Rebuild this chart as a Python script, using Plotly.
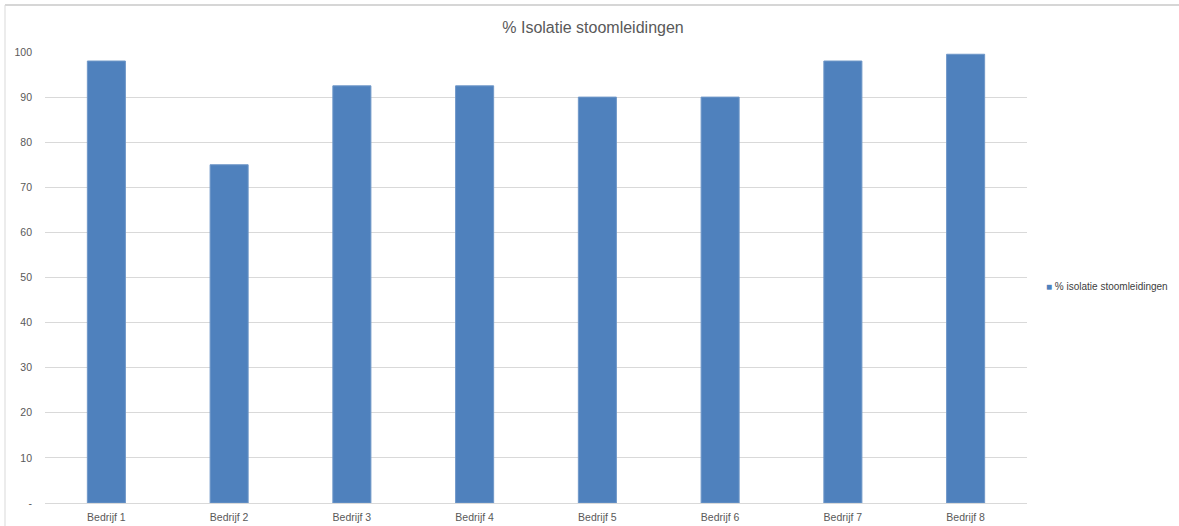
import plotly.graph_objects as go

categories = ["Bedrijf 1", "Bedrijf 2", "Bedrijf 3", "Bedrijf 4",
              "Bedrijf 5", "Bedrijf 6", "Bedrijf 7", "Bedrijf 8"]
values = [98, 75, 92.5, 92.5, 90, 90, 98, 99.5]
y_ticks = [0, 10, 20, 30, 40, 50, 60, 70, 80, 90, 100]
y_tick_text = ["-", "10", "20", "30", "40", "50", "60", "70", "80", "90", "100"]
series_name = "% isolatie stoomleidingen"
bar_color = "#4f81bd"

W, H = 1179, 526
L, R, T, B = 45, 152, 52, 23

fig = go.Figure()
fig.add_trace(go.Bar(
    x=categories, y=values,
    name=series_name,
    marker=dict(color=bar_color, line=dict(color="#6f97c8", width=1)),
))

pw, ph = W - L - R, H - T - B
border_x = (5 - L) / pw
border_y = (H - B - 5) / ph

# legend drawn as a small square swatch followed by the series name
fig.add_annotation(
    xref="paper", yref="paper", x=(1044 - L) / pw, y=(H - B - 286) / ph,
    xanchor="left", yanchor="middle", showarrow=False,
    text=f'<span style="color:{bar_color};font-size:10px">■</span> {series_name}',
    font=dict(size=10, color="#404040"),
)

fig.update_layout(
    width=W, height=H,
    margin=dict(l=L, r=R, t=T, b=B, autoexpand=False),
    paper_bgcolor="white", plot_bgcolor="white",
    font=dict(family="Liberation Sans, Arial, sans-serif", size=11, color="#595959"),
    title=dict(text="% Isolatie stoomleidingen", x=593 / W, xanchor="center",
               y=1 - 27 / H, yanchor="middle",
               font=dict(size=16, color="#595959")),
    bargap=0.69,
    showlegend=False,
    xaxis=dict(showgrid=False, showline=True, linecolor="#d9d9d9", linewidth=1,
               ticks="", ticklabelstandoff=4, tickfont=dict(size=10.5, color="#595959")),
    yaxis=dict(range=[0, 100], tickvals=y_ticks, ticktext=y_tick_text,
               showgrid=True, gridcolor="#d9d9d9", gridwidth=1,
               zeroline=False, showline=False, ticks="",
               ticklabelstandoff=12, tickfont=dict(size=10.5, color="#595959")),
    shapes=[
        dict(type="line", xref="paper", yref="paper", x0=border_x, x1=(W - L) / pw,
             y0=border_y, y1=border_y, line=dict(color="#c8c8c8", width=1.5)),
        dict(type="line", xref="paper", yref="paper", x0=border_x, x1=border_x,
             y0=border_y, y1=-B / ph, line=dict(color="#d9d9d9", width=1)),
    ],
)

fig.write_html("out.html")
